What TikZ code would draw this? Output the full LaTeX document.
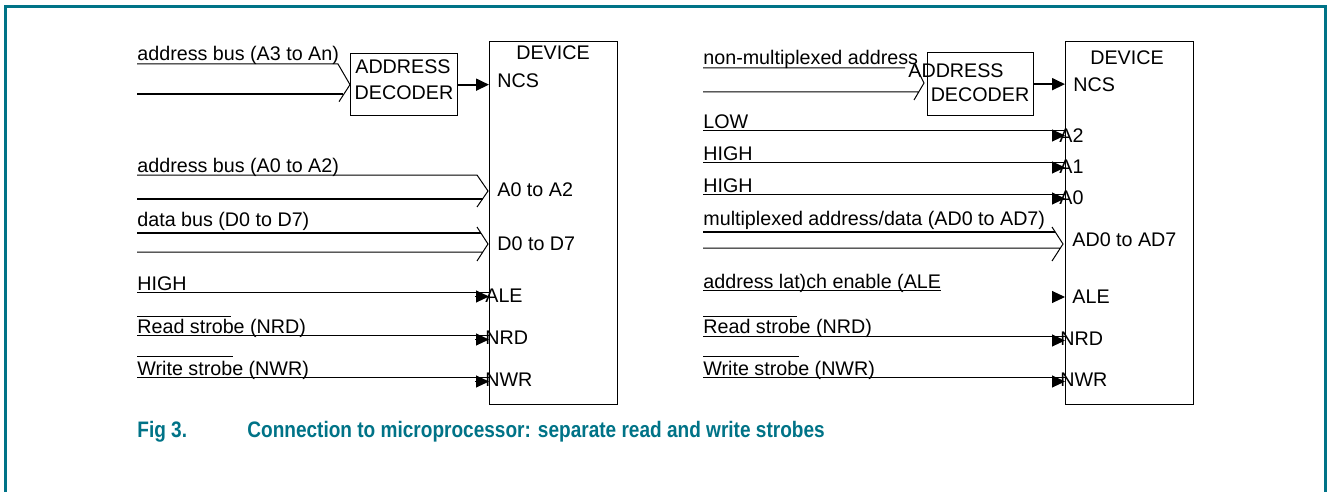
\documentclass[tikz,border=0pt]{standalone}
\usepackage{fontspec}
\setmainfont{Liberation Sans}
\newfontfamily\capfont[FakeStretch=0.85]{Liberation Sans}
\usetikzlibrary{arrows.meta}
\definecolor{nxpteal}{RGB}{0,115,135}
\begin{document}
\begin{tikzpicture}[x=0.5pt, y=-0.5pt,
    font=\fontsize{9.85}{11}\selectfont,
    txt/.style={anchor=base west, inner sep=0pt},
    ctr/.style={anchor=base, inner sep=0pt},
    blk/.style={draw, line width=0.65pt, inner sep=0pt, anchor=north west},
    wire/.style={line width=0.5pt},
    fatwire/.style={line width=1.1pt},
    tip/.style={-{Triangle[length=6.5pt, width=6pt]}, line width=0.5pt},
    capt/.style={anchor=base west, inner sep=0pt, text=nxpteal, font=\capfont\fontsize{11.2}{13}\selectfont\bfseries}]
  \useasboundingbox (0,0) rectangle (1328,492);
  \draw[nxpteal, line width=1.5pt] (5.5,492) -- (5.5,6.5) -- (1325,6.5) -- (1325,492);

  % left: separate address lines
  \node[blk, minimum width=53.5pt, minimum height=31pt] (decL) at (350,53) {};
  \node[ctr] (decLa) at (403,74) {ADDRESS};
  \node[ctr] (decLb) at (404,100) {DECODER};
  \node[blk, minimum width=64pt, minimum height=181.5pt] (devL) at (489,41) {};
  \node[ctr] (devLt) at (553,60) {DEVICE};
  \node[txt] (ncsL) at (497,88) {NCS};
  \node[txt] (a02L) at (497,197) {A0 to A2};
  \node[txt] (d07L) at (497,250) {D0 to D7};
  \node[txt] (aleL) at (485,302) {ALE};
  \node[txt] (nrdL) at (485,344) {NRD};
  \node[txt] (nwrL) at (485,386) {NWR};
  \draw[tip, line width=0.9pt] (decL.east) -- (decL.east -| devL.west);

  \node[txt] (a3lbl) at (137,61) {address bus (A3 to An)};
  \node[txt] (a02lbl) at (137,172) {address bus (A0 to A2)};
  \node[txt] (dblbl) at (137,226) {data bus (D0 to D7)};
  \node[txt] (hilbl) at (137,290) {HIGH};
  \node[txt] (rdlbl) at (137,333) {Read strobe (NRD)};
  \node[txt] (wrlbl) at (137,375) {Write strobe (NWR)};
  \coordinate (a3t) at (137,64);  \coordinate (a3b) at (137,94);
  \coordinate (a02t) at (137,175); \coordinate (a02b) at (137,199);
  \coordinate (dbt) at (137,233); \coordinate (dbb) at (137,252);
  \coordinate (a02tip) at (488,191); \coordinate (dbtip) at (488,244);
  \draw[wire] (a3t) -- ++(201,0) -- (decL.west) -- ++(-11,17);
  \draw[fatwire] (a3b) -- ++(206,0);
  \draw[wire] (a02t) -- (477,175) -- (a02tip) -- (477,207);
  \draw[line width=0.75pt] (a02b) -- (483,199);
  \draw[fatwire] (dbt) -- (481,233);
  \draw[wire] (477,227) -- (dbtip) -- (477,261)
              (dbb) -- (483,252);
  \draw[wire] (137,292) -- (137,292 -| devL.west)
              (137,335) -- (137,335 -| devL.west)
              (137,377) -- (137,377 -| devL.west)
              (137,316) -- (231,316)
              (137,356) -- (233,356);
  \draw[tip] (475,296.5) -- (475,296.5 -| devL.west);
  \draw[tip] (475,339.5) -- (475,339.5 -| devL.west);
  \draw[tip] (475,381.5) -- (475,381.5 -| devL.west);

  % right: multiplexed address/data
  \node[blk, minimum width=53pt, minimum height=31.5pt] (decR) at (927,52) {};
  \node[ctr] (decRa) at (956,78) {ADDRESS};
  \node[ctr] (decRb) at (980,102) {DECODER};
  \node[blk, minimum width=64pt, minimum height=181.5pt] (devR) at (1065,41) {};
  \node[ctr] (devRt) at (1127,65) {DEVICE};
  \node[txt] (ncsR) at (1073,92) {NCS};
  \node[txt] (a2R) at (1059,142) {A2};
  \node[txt] (a1R) at (1059,173) {A1};
  \node[txt] (a0R) at (1059,205) {A0};
  \node[txt] (ad07R) at (1072,246) {AD0 to AD7};
  \node[txt] (aleR) at (1072,303) {ALE};
  \node[txt] (nrdR) at (1060,345) {NRD};
  \node[txt] (nwrR) at (1060,386) {NWR};
  \draw[tip, line width=0.9pt] (decR.east) -- (decR.east -| devR.west);

  \node[txt] (nmlbl) at (703,65) {non-multiplexed address};
  \node[txt] (lowlbl) at (703,129) {LOW};
  \node[txt] (hi1lbl) at (703,161) {HIGH};
  \node[txt] (hi0lbl) at (703,192) {HIGH};
  \node[txt] (mxlbl) at (703,225) {multiplexed address/data (AD0 to AD7)};
  \node[txt] (allbl) at (703,288) {address lat)ch enable (ALE};
  \node[txt] (rdRlbl) at (703,333) {Read strobe (NRD)};
  \node[txt] (wrRlbl) at (703,375) {Write strobe (NWR)};
  \coordinate (nmt) at (703,68); \coordinate (nmb) at (703,92);
  \coordinate (mxt) at (703,232); \coordinate (mxb) at (703,248);
  \coordinate (nmtip) at (924,83); \coordinate (mxtip) at (1063,244);
  \coordinate (aleTail) at (1052,297);
  \draw[wire] (nmt) -- (905,68)
              (915,65) -- (nmtip) -- (914,100)
              (nmb) -- (919,92);
  \draw[fatwire] (mxt) -- (1055,232);
  \draw[wire] (1052,227) -- (mxtip) -- (1052,261)
              (mxb) -- (1060,248);
  \draw[wire] (703,131) -- (703,131 -| devR.west)
              (703,163) -- (703,163 -| devR.west)
              (703,194) -- (703,194 -| devR.west)
              (703,336) -- (703,336 -| devR.west)
              (703,377) -- (703,377 -| devR.west)
              (703,290) -- (allbl.east |- 703,290)
              (703,316) -- (797,316)
              (703,356) -- (799,356);
  \draw[tip] (1052,135.5) -- (1052,135.5 -| devR.west);
  \draw[tip] (1052,167.5) -- (1052,167.5 -| devR.west);
  \draw[tip] (1052,198.5) -- (1052,198.5 -| devR.west);
  \draw[tip] (aleTail) -- (aleTail -| devR.west);
  \draw[tip] (1052,340.5) -- (1052,340.5 -| devR.west);
  \draw[tip] (1052,381.5) -- (1052,381.5 -| devR.west);

  % caption
  \node[capt] (fig) at (137,437) {Fig 3.};
  \node[capt] (figtxt) at (247,437) {Connection to microprocessor: separate read and write strobes};
\end{tikzpicture}
\end{document}
